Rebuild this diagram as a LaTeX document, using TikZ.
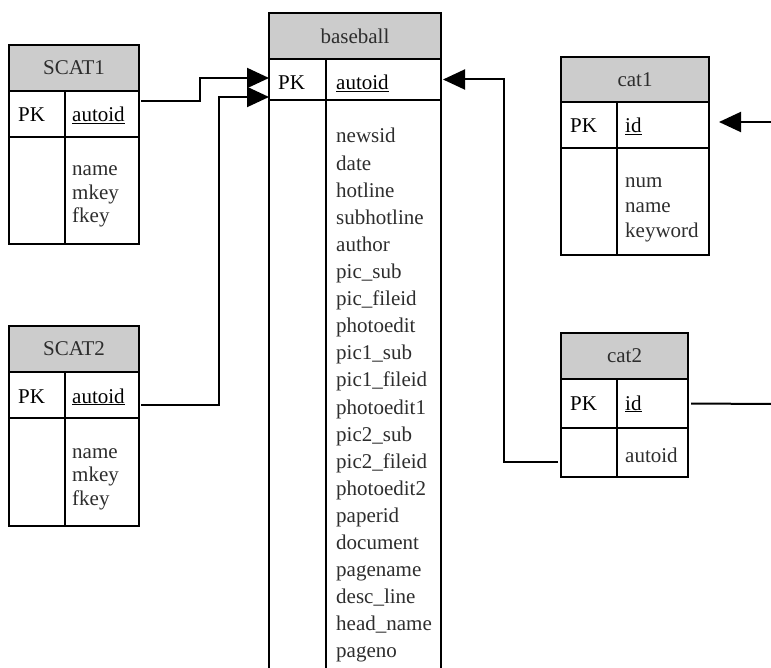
\documentclass[tikz,border=0pt]{standalone}
\usepackage{fontspec}
\setmainfont{Liberation Serif}
\usetikzlibrary{arrows.meta,calc}
\definecolor{hdrgray}{RGB}{204,204,204}
\definecolor{txtgray}{RGB}{45,45,45}
\tikzset{
  cell/.style={draw=black, line width=1.2pt, rectangle, inner sep=0pt, outer sep=0pt, anchor=north west},
  hdr/.style={cell, fill=hdrgray},
  htext/.style={font=\fontsize{21}{24}\selectfont, text=txtgray, inner sep=0pt},
  pktext/.style={font=\fontsize{21}{24}\selectfont, anchor=base west, inner sep=0pt, text=black},
  ftext/.style={font=\fontsize{21}{24}\selectfont, anchor=base west, inner sep=0pt, text=txtgray},
  divline/.style={line width=1.2pt},
  conn/.style={line width=2pt},
  fk/.style={conn, -{Triangle[length=22pt,width=20pt]}},
}
\begin{document}
\begin{tikzpicture}[x=1pt,y=-1pt]
\useasboundingbox (0,0) rectangle (771,668);

% ---------- SCAT1 ----------
\node[hdr, minimum width=130pt, minimum height=46pt] (s1h) at (9,45) {};
\node[cell, minimum width=130pt, minimum height=46pt] (s1pk) at (9,91) {};
\node[cell, minimum width=130pt, minimum height=107pt] (s1b) at (9,137) {};
\draw[divline] ($(s1pk.north west)+(56,0)$) -- ($(s1b.south west)+(56,0)$);
\node[htext] (s1t) at (s1h) {SCAT1};
\node[pktext] (s1k) at (18,122) {PK};
\node[pktext] (s1f) at (72,122) {\underline{autoid}};
\foreach \t [count=\i from 0] in {name,mkey,fkey}
  \node[ftext] (s1l\i) at (72,176+23.5*\i) {\t};

% ---------- SCAT2 ----------
\node[hdr, minimum width=130pt, minimum height=46pt] (s2h) at (9,326) {};
\node[cell, minimum width=130pt, minimum height=46pt] (s2pk) at (9,372) {};
\node[cell, minimum width=130pt, minimum height=108pt] (s2b) at (9,418) {};
\draw[divline] ($(s2pk.north west)+(56,0)$) -- ($(s2b.south west)+(56,0)$);
\node[htext] (s2t) at (s2h) {SCAT2};
\node[pktext] (s2k) at (18,403) {PK};
\node[pktext] (s2f) at (72,403) {\underline{autoid}};
\foreach \t [count=\i from 0] in {name,mkey,fkey}
  \node[ftext] (s2l\i) at (72,458+23.5*\i) {\t};

% ---------- baseball ----------
\node[hdr, minimum width=172pt, minimum height=46pt] (bbh) at (269,13) {};
\node[cell, minimum width=172pt, minimum height=41pt] (bbpk) at (269,59) {};
\draw[divline] (bbpk.south west) -- ++(0,575);
\draw[divline] (bbpk.south east) -- ++(0,575);
\draw[divline] ($(bbpk.north west)+(57,0)$) -- ++(0,616);
\node[htext] (bbt) at (bbh) {baseball};
\node[pktext] (bbk) at (278,90) {PK};
\node[pktext] (bbf) at (336,90) {\underline{autoid}};
\foreach \t [count=\i from 0] in {newsid,date,hotline,subhotline,author,pic\_sub,pic\_fileid,photoedit,pic1\_sub,pic1\_fileid,photoedit1,pic2\_sub,pic2\_fileid,photoedit2,paperid,document,pagename,desc\_line,head\_name,pageno}
  \node[ftext] (bbl\i) at (336,143+27.1*\i) {\t};

% ---------- cat1 ----------
\node[hdr, minimum width=148pt, minimum height=45pt] (c1h) at (561,57) {};
\node[cell, minimum width=148pt, minimum height=46pt] (c1pk) at (561,102) {};
\node[cell, minimum width=148pt, minimum height=107pt] (c1b) at (561,148) {};
\draw[divline] ($(c1pk.north west)+(56,0)$) -- ($(c1b.south west)+(56,0)$);
\node[htext] (c1t) at (c1h) {cat1};
\node[pktext] (c1k) at (570,133) {PK};
\node[pktext] (c1f) at (625,133) {\underline{id}};
\foreach \t [count=\i from 0] in {num,name,keyword}
  \node[ftext] (c1l\i) at (625,188+25*\i) {\t};

% ---------- cat2 ----------
\node[hdr, minimum width=127pt, minimum height=46pt] (c2h) at (561,333) {};
\node[cell, minimum width=127pt, minimum height=49pt] (c2pk) at (561,379) {};
\node[cell, minimum width=127pt, minimum height=49pt] (c2b) at (561,428) {};
\draw[divline] ($(c2pk.north west)+(56,0)$) -- ($(c2b.south west)+(56,0)$);
\node[htext] (c2t) at (c2h) {cat2};
\node[pktext] (c2k) at (570,410) {PK};
\node[pktext] (c2f) at (625,410) {\underline{id}};
\node[ftext] (c2l0) at (625,462) {autoid};

% ---------- connectors ----------
\draw[fk] ([xshift=2pt,yshift=13pt]s1pk.east) -- ++(59,0) |- ([yshift=1.5pt]bbpk.west);
\draw[fk] ([xshift=2pt,yshift=-10pt]s2pk.east) -- ++(78,0) |- ([yshift=-17.5pt]bbpk.west);
\draw[fk] ([xshift=-3pt,yshift=-9.5pt]c2b.west) -- ++(-54,0) |- ([xshift=2pt]bbpk.east);
\coordinate (e1) at (771,122);
\draw[fk] (e1) -- ([xshift=10pt,yshift=3pt]c1pk.east);
\coordinate (e2) at (771,404);
\draw[conn] ([xshift=3pt]c2pk.east) -- (e2);
\end{tikzpicture}
\end{document}
